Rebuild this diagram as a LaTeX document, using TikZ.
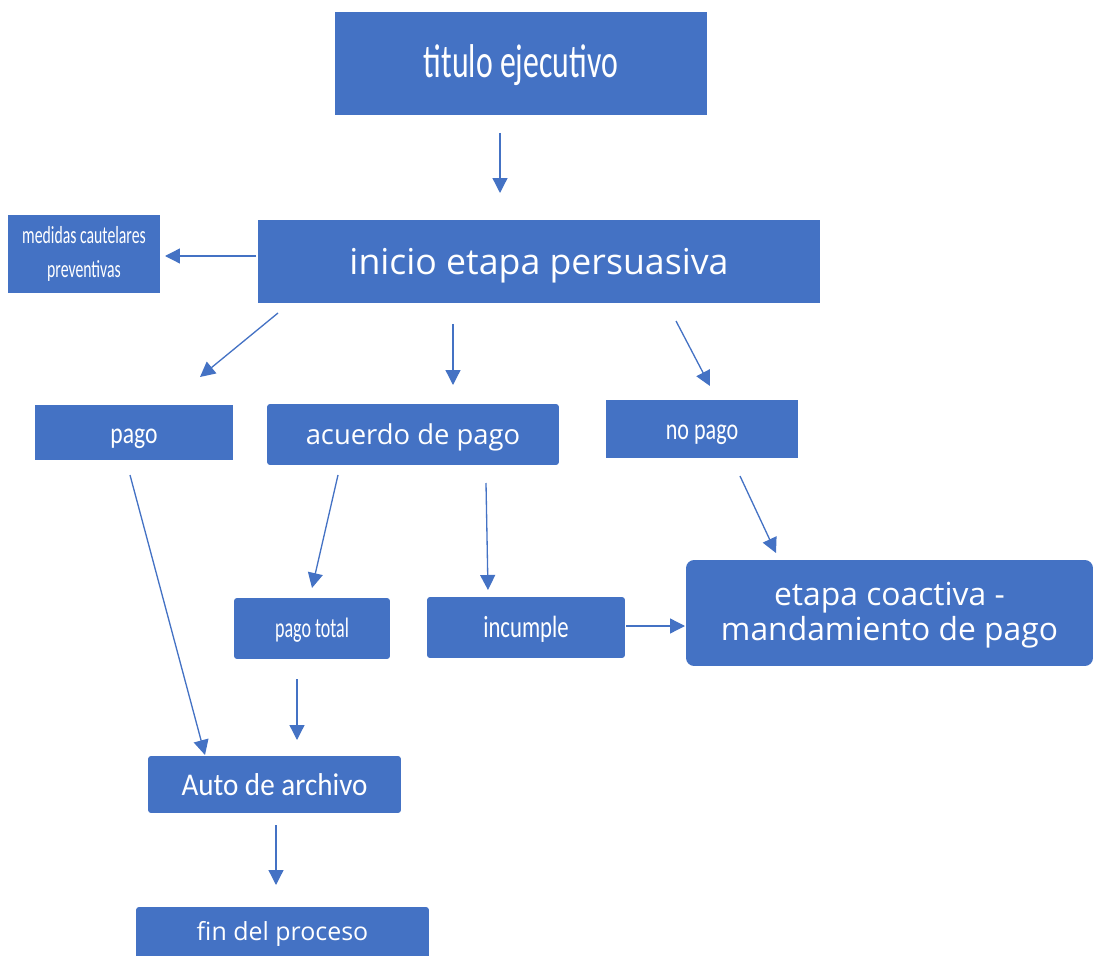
\documentclass[tikz,border=0pt]{standalone}
\usepackage{fontspec}
\setmainfont{Carlito}
\newfontfamily\widefont{Open Sans}
\newfontfamily\condfont[FakeStretch=0.64]{Carlito}
\newfontfamily\titlefont[FakeStretch=0.67]{Carlito}
\newfontfamily\narrowfont[FakeStretch=0.74]{Carlito}
\newfontfamily\slimfont[FakeStretch=0.79]{Carlito}
\newfontfamily\autofont[FakeStretch=0.92]{Carlito}
\usetikzlibrary{arrows.meta}
\definecolor{boxblue}{HTML}{4472C4}
\newcommand{\lowered}[2]{\raisebox{-#1}[\height][\depth]{#2}}
\begin{document}
\begin{tikzpicture}[x=0.02cm, y=-0.02cm, line join=round,
		box/.style={fill=boxblue, text=white, inner sep=0pt, align=center},
		arr/.style={draw=boxblue, line width=0.75pt, -{Triangle[length=0.3cm,width=0.3cm]}}]
			\clip (0,0) rectangle (1093,956);
			\useasboundingbox (0,0) rectangle (1093,956);
			% boxes
			\node[box, minimum width=7.44cm, minimum height=2.06cm, font=\titlefont\fontsize{27}{32}\selectfont] (titulo) at (521,63.5) {\lowered{0.04cm}{titulo ejecutivo}};
			\node[box, minimum width=11.24cm, minimum height=1.66cm, font=\widefont\fontsize{20.3}{24}\selectfont] (inicio) at (539,261.5) {\lowered{0.08cm}{inicio etapa persuasiva}};
			\node[box, minimum width=3.04cm, minimum height=1.56cm, font=\condfont\fontsize{14}{19.3}\selectfont] (medidas) at (84,254) {medidas cautelares\\ preventivas};
			\node[box, minimum width=3.96cm, minimum height=1.1cm, font=\slimfont\fontsize{17}{20}\selectfont] (pago) at (134,432.5) {\lowered{0.12cm}{pago}};
			\node[box, rounded corners=0.06cm, minimum width=5.84cm, minimum height=1.22cm, font=\widefont\fontsize{15.6}{19}\selectfont] (acuerdo) at (413,434.5) {\lowered{0.06cm}{acuerdo de pago}};
			\node[box, minimum width=3.84cm, minimum height=1.16cm, font=\narrowfont\fontsize{17}{20}\selectfont] (nopago) at (702,429) {\lowered{0.12cm}{no pago}};
			\node[box, rounded corners=0.06cm, minimum width=3.12cm, minimum height=1.22cm, font=\condfont\fontsize{16}{19}\selectfont] (pagototal) at (312,628.5) {\lowered{0.04cm}{pago total}};
			\node[box, rounded corners=0.06cm, minimum width=3.96cm, minimum height=1.22cm, font=\narrowfont\fontsize{17.5}{20}\selectfont] (incumple) at (526,627.5) {\lowered{0.04cm}{incumple}};
			\node[box, rounded corners=0.16cm, minimum width=8.14cm, minimum height=2.12cm, font=\widefont\fontsize{18.1}{19.8}\selectfont] (coactiva) at (889.5,613) {\lowered{0.06cm}{\begin{tabular}{@{}c@{}}etapa coactiva -\\ mandamiento de pago\end{tabular}}};
			\node[box, rounded corners=0.06cm, minimum width=5.06cm, minimum height=1.14cm, font=\autofont\fontsize{18}{21}\selectfont] (auto) at (274.5,784.5) {Auto de archivo};
			\node[box, rounded corners=0.06cm, minimum width=5.86cm, minimum height=1.2cm, font=\widefont\fontsize{14.2}{17}\selectfont] (fin) at (282.5,937) {\raisebox{0.26cm}{fin del proceso}};
			% arrow ends
			\coordinate (t1) at (500,133);  \coordinate (h1) at (500,193);
			\coordinate (t2) at (256,256);  \coordinate (h2) at (165,256);
			\coordinate (t3) at (278,313);  \coordinate (h3) at (200,377);
			\coordinate (t4) at (453,324);  \coordinate (h4) at (453,385);
			\coordinate (t5) at (676,321);  \coordinate (h5) at (710,386);
			\coordinate (t6) at (130,475);  \coordinate (h6) at (205,755);
			\coordinate (t7) at (338,475);  \coordinate (h7) at (312,588);
			\coordinate (t8) at (486,483);  \coordinate (h8) at (488,590);
			\coordinate (t9) at (740,476);  \coordinate (h9) at (776,553);
			\coordinate (t10) at (626,626); \coordinate (h10) at (685,626);
			\coordinate (t11) at (297,679); \coordinate (h11) at (297,740);
			\coordinate (t12) at (276,825); \coordinate (h12) at (276,885);
			% arrows
			\foreach \i in {1,...,12}
				\draw[arr] (t\i) -- (h\i);
		\end{tikzpicture}
\end{document}
